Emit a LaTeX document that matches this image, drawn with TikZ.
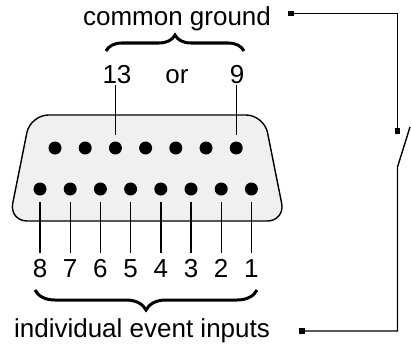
\documentclass[tikz,border=0pt]{standalone}
\usepackage{fontspec}
\setmainfont{Liberation Sans}
\usetikzlibrary{decorations.pathreplacing}

\tikzset{
    pindot/.style={circle, fill=black, inner sep=0pt, minimum size=13pt},
    termbox/.style={rectangle, fill=black, inner sep=0pt, minimum size=5.5pt},
    wire/.style={draw=black, line width=1.4pt},
    pinlabel/.style={font=\fontsize{26}{31}\selectfont, inner sep=2pt, anchor=base},
    bigbrace/.style={draw=black, line width=3pt, decorate}
}

\begin{document}
\begin{tikzpicture}[x=1pt, y=-1pt]
    \useasboundingbox (0,0) rectangle (411,345);

    % Connector shell
    \draw[line width=1.4pt, fill=black!6, rounded corners=18pt]
        (147.2,115) -- (264,115) -- (285.2,221) -- (9.2,221) -- (30.4,115) -- cycle;

    % Pins, top row 15..9 and bottom row 8..1
    \foreach \n [count=\i from 0] in {15,...,9}
        \node[pindot] (p\n) at (55+30.2*\i,148) {};
    \foreach \n [count=\i from 0] in {8,...,1}
        \node[pindot] (p\n) at (40+30.2*\i,189) {};

    % Pin numbers below the connector
    \foreach \n [count=\i from 0] in {8,...,1} {
        \node[pinlabel] (l\n) at (40+30.2*\i,277) {\n};
        \draw[wire, shorten <=6.5pt, shorten >=4pt] (p\n.south) -- (p\n.south |- l\n.north);
    }

    % Ground pins above the connector
    \node[pinlabel] (l13) at (117,83) {13};
    \node[pinlabel] (lor) at (177,83) {or};
    \node[pinlabel] (l9) at (237,83) {9};
    \draw[wire, shorten <=6.5pt] (p13.north) -- (p13.north |- l13.south);
    \draw[wire, shorten <=6.5pt] (p9.north) -- (p9.north |- l9.south);

    % Braces and texts
    \draw[bigbrace, decoration={brace, amplitude=16pt}] (106,51) -- (244,51);
    \draw[bigbrace, decoration={brace, amplitude=20pt}] (257,290) -- (35,290);
    \node[pinlabel] (ground) at (177,26) {common ground};
    \node[pinlabel] (inputs) at (142,337) {individual event inputs};

    % Switch wiring
    \node[termbox] (tg) at (291,13.5) {};
    \node[termbox] (ts) at (397.5,131) {};
    \node[termbox] (ti) at (302,331) {};
    \coordinate (sw) at (397.5,167);
    \coordinate (arm) at (410,127);
    \draw[wire] (tg) -| (ts);
    \draw[wire] (ti) -| (sw) -- (arm);
\end{tikzpicture}
\end{document}
